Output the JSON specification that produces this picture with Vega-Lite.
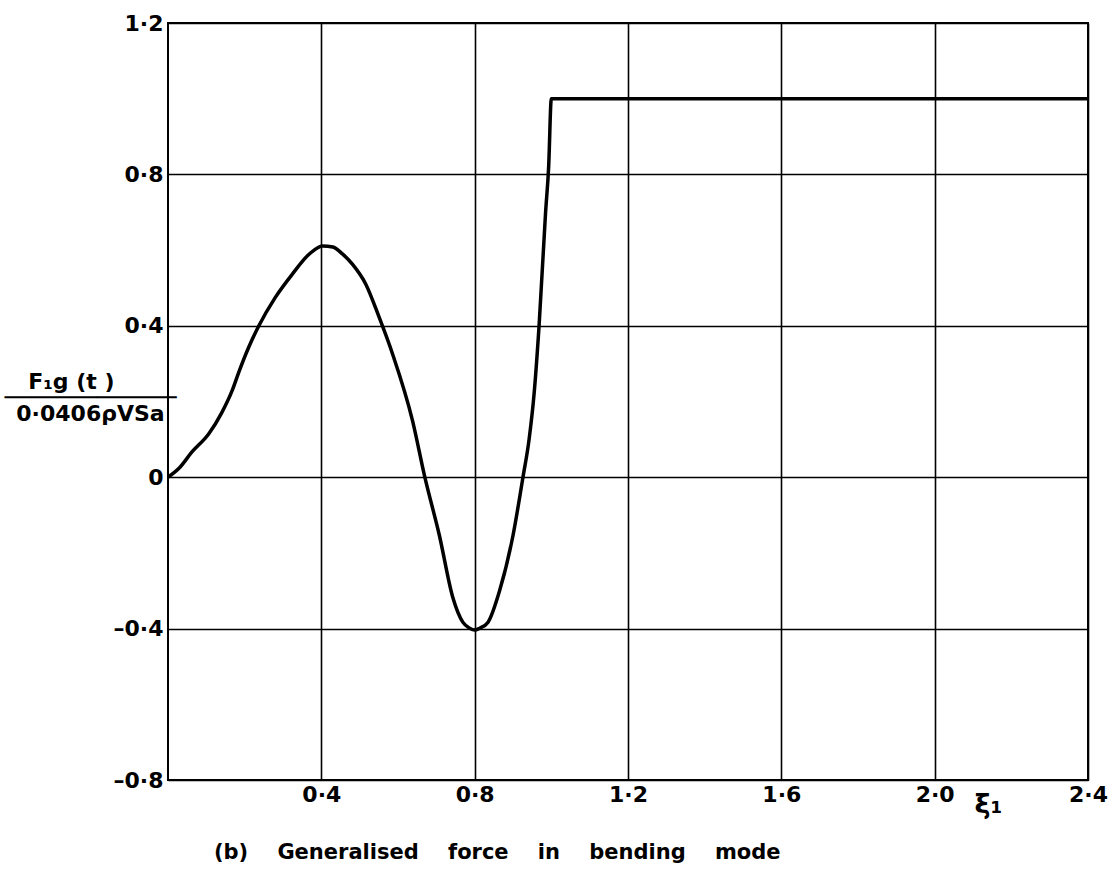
{
  "$schema": "https://vega.github.io/schema/vega-lite/v6.json",
  "width": 920,
  "height": 757,
  "autosize": {"type": "none"},
  "padding": {"left": 168, "top": 23, "right": 27, "bottom": 95},
  "background": "white",
  "config": {
    "view": {"stroke": "#000", "strokeWidth": 2},
    "font": "DejaVu Sans"
  },
  "title": {
    "text": "(b)\u00a0\u00a0\u00a0\u00a0Generalised\u00a0\u00a0\u00a0\u00a0force\u00a0\u00a0\u00a0\u00a0in\u00a0\u00a0\u00a0\u00a0bending\u00a0\u00a0\u00a0\u00a0mode",
    "orient": "bottom",
    "anchor": "start",
    "dx": 210,
    "offset": 25,
    "font": "DejaVu Sans",
    "fontSize": 21,
    "fontWeight": "bold",
    "color": "#000"
  },
  "data": {
    "values": [
      {"xi": 0, "F": 0},
      {"xi": 0.03, "F": 0.025},
      {"xi": 0.062, "F": 0.066},
      {"xi": 0.106, "F": 0.114},
      {"xi": 0.14, "F": 0.17},
      {"xi": 0.167, "F": 0.228},
      {"xi": 0.186, "F": 0.281},
      {"xi": 0.21, "F": 0.342},
      {"xi": 0.237, "F": 0.4},
      {"xi": 0.28, "F": 0.475},
      {"xi": 0.324, "F": 0.536},
      {"xi": 0.368, "F": 0.589},
      {"xi": 0.403, "F": 0.611},
      {"xi": 0.43, "F": 0.608},
      {"xi": 0.455, "F": 0.59},
      {"xi": 0.481, "F": 0.563},
      {"xi": 0.516, "F": 0.51},
      {"xi": 0.551, "F": 0.422},
      {"xi": 0.586, "F": 0.325},
      {"xi": 0.638, "F": 0.149},
      {"xi": 0.67, "F": 0},
      {"xi": 0.708, "F": -0.154},
      {"xi": 0.743, "F": -0.318},
      {"xi": 0.769, "F": -0.383},
      {"xi": 0.787, "F": -0.399},
      {"xi": 0.8, "F": -0.404},
      {"xi": 0.813, "F": -0.399},
      {"xi": 0.835, "F": -0.383},
      {"xi": 0.865, "F": -0.3},
      {"xi": 0.9, "F": -0.154},
      {"xi": 0.926, "F": 0},
      {"xi": 0.942, "F": 0.1},
      {"xi": 0.955, "F": 0.22},
      {"xi": 0.968, "F": 0.4},
      {"xi": 0.985, "F": 0.7},
      {"xi": 0.993, "F": 0.82},
      {"xi": 1.0, "F": 1.0},
      {"xi": 2.4, "F": 1.0}
    ]
  },
  "mark": {"type": "line", "interpolate": "monotone", "color": "#000", "strokeWidth": 3.5},
  "encoding": {
    "x": {
      "field": "xi",
      "type": "quantitative",
      "scale": {"domain": [0, 2.4], "nice": false, "zero": false},
      "axis": {
        "values": [0.4, 0.8, 1.2, 1.6, 2.0, 2.4],
        "labelExpr": "replace(format(datum.value, '.1f'), '.', '·')",
        "grid": true,
        "gridColor": "#000",
        "gridWidth": 1.6,
        "gridOpacity": 1,
        "domain": false,
        "ticks": false,
        "labelFlush": false,
        "labelOverlap": false,
        "labelFont": "DejaVu Sans",
        "labelFontSize": 22,
        "labelFontWeight": "bold",
        "labelColor": "#000",
        "labelPadding": 4,
        "title": "ξ₁",
        "titleX": 820,
        "titleY": 24,
        "titleAlign": "center",
        "titleBaseline": "middle",
        "titleFont": "DejaVu Sans",
        "titleFontSize": 27,
        "titleFontWeight": "bold",
        "titleColor": "#000"
      }
    },
    "y": {
      "field": "F",
      "type": "quantitative",
      "scale": {"domain": [-0.8, 1.2], "nice": false, "zero": false},
      "axis": {
        "values": [-0.8, -0.4, 0, 0.4, 0.8, 1.2],
        "labelExpr": "datum.value == 0 ? '0' : replace(replace(format(datum.value, '.1f'), '.', '·'), '−', '–')",
        "grid": true,
        "gridColor": "#000",
        "gridWidth": 1.6,
        "gridOpacity": 1,
        "domain": false,
        "ticks": false,
        "labelFont": "DejaVu Sans",
        "labelFontSize": 22,
        "labelFontWeight": "bold",
        "labelColor": "#000",
        "labelPadding": 5,
        "title": ["F₁g (t )\u00a0\u00a0\u00a0\u00a0\u00a0\u200d", "─────────────", "0·0406ρVSa"],
        "titleAngle": 0,
        "titleX": -78,
        "titleY": 365,
        "titleAlign": "center",
        "titleBaseline": "alphabetic",
        "titleLineHeight": 16,
        "titleFont": "DejaVu Sans",
        "titleFontSize": 22,
        "titleFontWeight": "bold",
        "titleColor": "#000"
      }
    }
  }
}
